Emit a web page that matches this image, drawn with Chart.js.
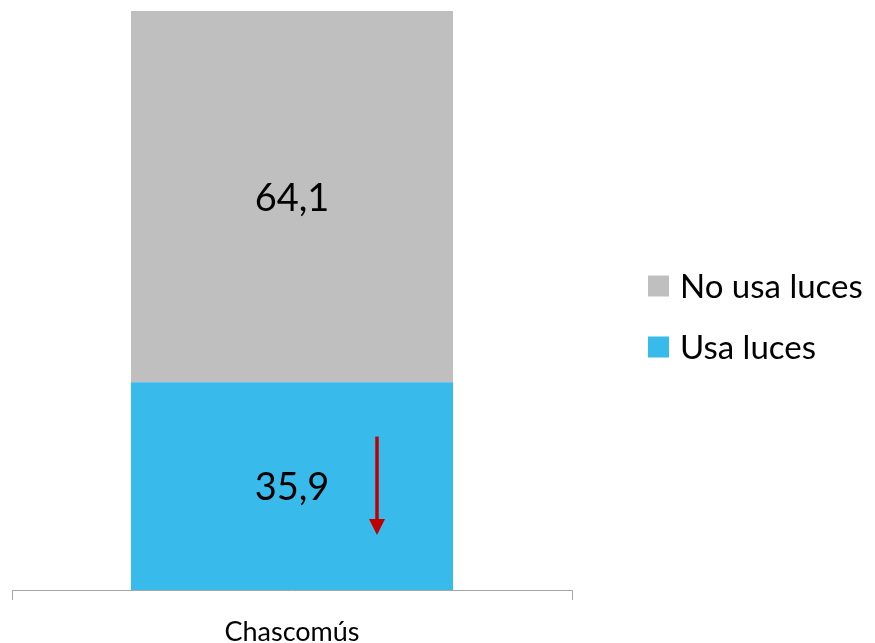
<!DOCTYPE html>
<html>
<head>
<meta charset="utf-8">
<script src="https://cdn.jsdelivr.net/npm/chart.js@4"></script>
<style>
  html, body { margin: 0; padding: 0; background: #fff; }
  #wrap { width: 875px; height: 643px; }
</style>
</head>
<body>
<div id="wrap"><canvas id="chart" width="875" height="643"></canvas></div>
<script>
'use strict';

// data
const categories = ['Chascomús'];
const usaLuces = [35.9];
const noUsaLuces = [64.1];
const seriesNames = ['Usa luces', 'No usa luces'];
const seriesColors = ['#38BAEB', '#BFBFBF'];

const FONT = 'Lato, "Liberation Sans", sans-serif';

// value labels in the middle of each segment, with decimal comma
const segmentLabels = {
  id: 'segmentLabels',
  afterDatasetsDraw(chart) {
    const ctx = chart.ctx;
    ctx.save();
    ctx.fillStyle = '#000';
    ctx.font = '38px ' + FONT;
    ctx.textAlign = 'center';
    ctx.textBaseline = 'middle';
    chart.data.datasets.forEach((ds, i) => {
      chart.getDatasetMeta(i).data.forEach((bar, j) => {
        const mid = (bar.y + bar.base) / 2;
        ctx.fillText(ds.data[j].toFixed(1).replace('.', ','), bar.x, mid + 2);
      });
    });
    ctx.restore();
  }
};

// red down arrow next to the "Usa luces" value
const downArrow = {
  id: 'downArrow',
  afterDatasetsDraw(chart) {
    const bar = chart.getDatasetMeta(0).data[0];
    const y = chart.scales.y;
    const x = bar.x + 85;
    const y0 = y.getPixelForValue(26.5);
    const y1 = y.getPixelForValue(9.5);
    const ctx = chart.ctx;
    ctx.save();
    ctx.strokeStyle = '#C00000';
    ctx.fillStyle = '#C00000';
    ctx.lineWidth = 3.5;
    ctx.beginPath();
    ctx.moveTo(x, y0);
    ctx.lineTo(x, y1 - 14);
    ctx.stroke();
    ctx.beginPath();
    ctx.moveTo(x - 8, y1 - 16);
    ctx.lineTo(x + 8, y1 - 16);
    ctx.lineTo(x, y1);
    ctx.closePath();
    ctx.fill();
    ctx.restore();
  }
};

// legend on the right, top series first
const sideLegend = {
  id: 'sideLegend',
  afterDraw(chart) {
    const ctx = chart.ctx;
    const area = chart.chartArea;
    const boxX = area.right + 76;
    const box = 21;
    const rowGap = 61;
    const firstY = 286;
    ctx.save();
    ctx.font = '33px ' + FONT;
    ctx.textBaseline = 'middle';
    ctx.textAlign = 'left';
    const items = chart.data.datasets.slice().reverse();
    items.forEach((ds, i) => {
      const cy = firstY + i * rowGap;
      ctx.fillStyle = ds.backgroundColor;
      ctx.fillRect(boxX, cy - box / 2, box, box);
      ctx.fillStyle = '#000';
      ctx.fillText(ds.label, boxX + box + 11, cy + 1);
    });
    ctx.restore();
  }
};

function renderChart() {
  let data = {
    labels: categories,
    datasets: [
      {
        label: seriesNames[0],
        data: usaLuces,
        backgroundColor: seriesColors[0],
        borderWidth: 0
      },
      {
        label: seriesNames[1],
        data: noUsaLuces,
        backgroundColor: seriesColors[1],
        borderWidth: 0
      }
    ]
  };

  let options = {
    responsive: false,
    animation: false,
    layout: {
      padding: { left: 12, top: 11, right: 303, bottom: -22 }
    },
    datasets: {
      bar: { barPercentage: 0.575, categoryPercentage: 1 }
    },
    scales: {
      x: {
        stacked: true,
        grid: {
          offset: true,
          drawOnChartArea: false,
          tickLength: 10,
          color: '#A6A6A6'
        },
        border: { color: '#A6A6A6', width: 1 },
        ticks: {
          color: '#000',
          padding: 19,
          font: { family: FONT, size: 27, lineHeight: 1 }
        }
      },
      y: {
        stacked: true,
        display: false,
        min: 0,
        max: 100
      }
    },
    plugins: {
      legend: { display: false },
      tooltip: { enabled: false }
    }
  };

  let ctx = document.getElementById('chart').getContext('2d');
  new Chart(ctx, {
    type: 'bar',
    data: data,
    options: options,
    plugins: [segmentLabels, downArrow, sideLegend]
  });
}

renderChart();
</script>
</body>
</html>
